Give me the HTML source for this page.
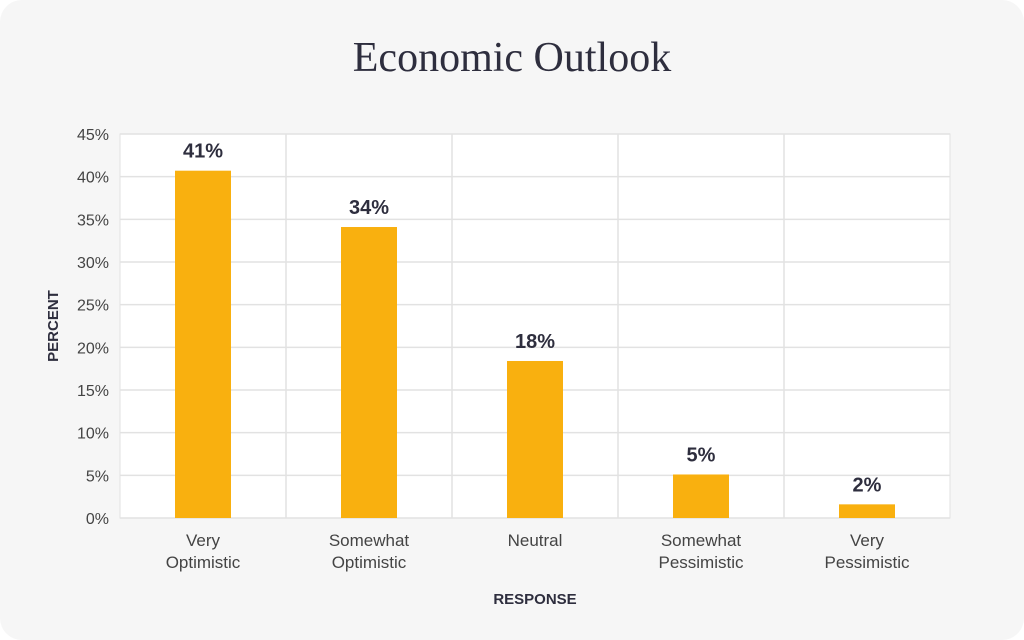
<!DOCTYPE html>
<html><head><meta charset="utf-8"><style>
body{margin:0;background:#fff;width:1024px;height:640px;overflow:hidden}
.card{position:absolute;left:0;top:0;width:1024px;height:640px;background:#f6f6f6;border-radius:22px}
svg{position:absolute;left:0;top:0}
text{font-family:"Liberation Sans",sans-serif}
</style></head><body>
<div class="card"></div>
<svg id="c" width="1024" height="640">
<text x="512" y="71" text-anchor="middle" font-size="42" fill="#2e2e3e" font-family="Liberation Serif, serif" style="font-family:'Liberation Serif',serif">Economic Outlook</text>
<text x="535" y="604" text-anchor="middle" font-size="15" font-weight="bold" fill="#2e2e3e">RESPONSE</text>
<text transform="translate(58,326) rotate(-90)" text-anchor="middle" font-size="15" font-weight="bold" fill="#2e2e3e">PERCENT</text>
</svg>
<script>
const categories=[["Very","Optimistic"],["Somewhat","Optimistic"],["Neutral"],["Somewhat","Pessimistic"],["Very","Pessimistic"]];
const values=[40.7,34.1,18.4,5.1,1.6];
const valueLabels=["41%","34%","18%","5%","2%"];
const yTicks=[0,5,10,15,20,25,30,35,40,45];
const svg=document.getElementById('c');
const NS='http://www.w3.org/2000/svg';
const L=120,R=950,T=134,B=518,yMax=45;
const y=v=>B-(v/yMax)*(B-T);
const bw=(R-L)/categories.length;
const x=i=>L+bw*i;
function mk(t,a){const e=document.createElementNS(NS,t);for(const k in a)e.setAttribute(k,a[k]);svg.appendChild(e);return e;}
let bg=mk('rect',{x:L,y:T,width:R-L,height:B-T,fill:'#fff',stroke:'#e2e2e2'});


yTicks.forEach(v=>{
 let g=mk('line',{x1:L,x2:R,y1:y(v),y2:y(v),stroke:'#e2e2e2','stroke-width':1.5});
 
 
 let t=mk('text',{x:109,y:y(v)+6,'text-anchor':'end','font-size':16,fill:'#444'});
 t.textContent=v+'%';
 
 
});
for(let i=1;i<categories.length;i++){
 let g=mk('line',{x1:x(i),x2:x(i),y1:T,y2:B,stroke:'#e2e2e2','stroke-width':1.5});
 
 
}
values.forEach((v,i)=>{
 const cx=x(i)+bw/2;
 let r=mk('rect',{x:cx-28,y:y(v),width:56,height:B-y(v),fill:'#f9b00f'});
 
 
 let t=mk('text',{x:cx,y:y(v)-13,'text-anchor':'middle','font-size':20,'font-weight':'bold',fill:'#2e2e3e'});
 t.textContent=valueLabels[i];
 
 
 categories[i].forEach((line,j)=>{
  let c=mk('text',{x:cx,y:546+j*22,'text-anchor':'middle','font-size':17,fill:'#444'});
  c.textContent=line;
  
  
 });
});
</script>
</body></html>
